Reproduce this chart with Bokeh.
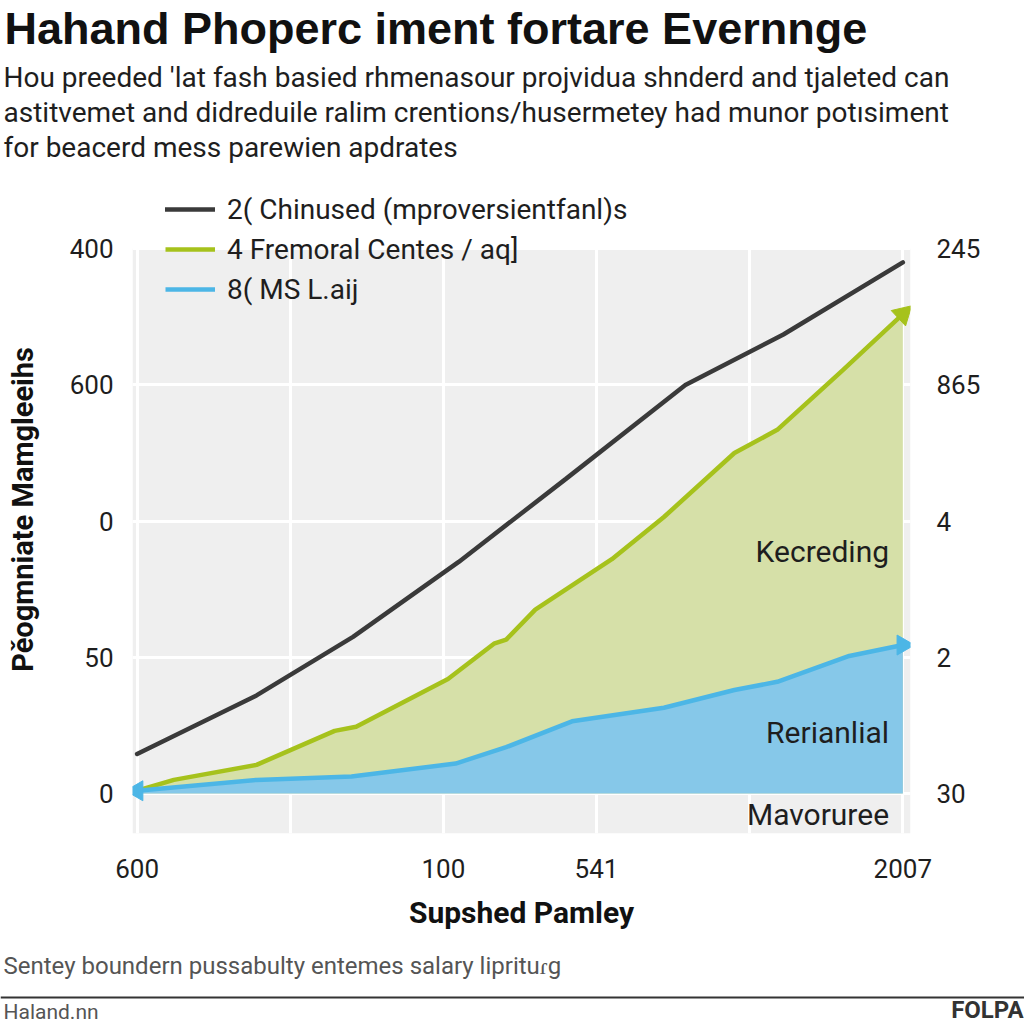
import math
from bokeh.plotting import figure
from bokeh.layouts import column
from bokeh.models import (Legend, LegendItem, Label, FixedTicker, LinearAxis,
                          Range1d, BoxAnnotation, Span)
from bokeh.core.properties import value
from bokeh.embed import file_html
from bokeh.resources import INLINE

# ---------------- data ----------------
title_text = "Hahand Phoperc iment fortare Evernnge"
subtitle_lines = [
    "Hou preeded 'lat fash basied rhmenasour projvidua shnderd and tjaleted can",
    "astitvemet and didreduile ralim crentions/husermetey had munor potısiment",
    "for beacerd mess parewien apdrates",
]
series_names = ["2( Chinused (mproversientfanl)s", "4 Fremoral Centes / aq]", "8( MS L.aij"]

x_tick_pos = [0, 1, 2, 3, 4, 5]
x_tick_labels = ["600", "", "100", "541", "", "2007"]
y_tick_pos = [0, 1, 2, 3, 4]
y_left_labels = ["0", "50", "0", "600", "400"]
y_right_labels = ["30", "2", "4", "865", "245"]

x_title = "Supshed Pamley"
y_title = "Pěogmniate Mamgleeihs"
area_labels = ["Kecreding", "Rerianlial", "Mavoruree"]
area_label_x = [4.91, 4.91, 4.91]
area_label_y = [1.78, 0.45, -0.154]

footer_note = "Sentey boundern pussabulty entemes salary liprituɾg"
footer_left = "Haland.nn"
footer_right = "FOLPA"

black_x = [0.0, 0.78, 1.41, 2.10, 2.80, 3.58, 4.22, 5.0]
black_y = [0.29, 0.72, 1.15, 1.70, 2.31, 3.00, 3.37, 3.90]

green_x = [0.0, 0.24, 0.78, 1.29, 1.43, 2.03, 2.33, 2.41, 2.60, 3.10, 3.44, 3.90, 4.18, 4.61, 5.0]
green_y = [0.02, 0.10, 0.21, 0.46, 0.49, 0.84, 1.10, 1.13, 1.35, 1.72, 2.03, 2.50, 2.67, 3.11, 3.52]

blue_x = [0.0, 0.78, 1.40, 2.08, 2.41, 2.84, 3.44, 3.90, 4.18, 4.65, 5.0]
blue_y = [0.02, 0.10, 0.125, 0.22, 0.34, 0.53, 0.63, 0.76, 0.82, 1.01, 1.09]

# ---------------- styles ----------------
BLACK = "#3a3a3a"
GREEN = "#a6c21c"
GREEN_FILL = "#d6e0a8"
BLUE = "#4cb6e6"
BLUE_FILL = "#86c8e9"
BG = "#efefef"
TXT = "#1e1e1e"
FONT = "Roboto"

W = 1024
H_HEAD = 170          # header strip
H_MAIN = 775          # main chart
H_FOOT = W - H_HEAD - H_MAIN

# frame edges in page px
FL, FR, FT, FB = 132, 910, 185, 833


def blank(h):
    f = figure(width=W, height=h, output_backend="svg", toolbar_location=None,
               x_range=Range1d(0, W), y_range=Range1d(0, h),
               x_axis_type=None, y_axis_type=None, frame_align=False,
               min_border=0, min_border_left=0, min_border_right=0,
               min_border_top=0, min_border_bottom=0)
    f.grid.visible = False
    f.outline_line_color = None
    f.background_fill_color = "white"
    f.border_fill_color = "white"
    return f


# ---------------- header ----------------
ph = blank(H_HEAD)
ph.add_layout(Label(x=4, y=H_HEAD - 28, text=title_text, text_font="Liberation Sans",
                    text_font_style="bold", text_font_size="45px", text_color="#111111",
                    text_baseline="middle"))
for i, line in enumerate(subtitle_lines):
    ph.add_layout(Label(x=3, y=H_HEAD - (77 + 35 * i), text=line, text_font=FONT,
                        text_font_size="28px", text_color=TXT, text_baseline="middle"))

# ---------------- main chart ----------------
y0_px, ppu_y = 793, 136.2
y_end = (y0_px - FT) / ppu_y
y_start = (y0_px - FB) / ppu_y

p = figure(width=W, height=H_MAIN, output_backend="svg", toolbar_location=None,
           x_range=Range1d(-0.03, 5.05), y_range=Range1d(y_start, y_end),
           frame_align=False,
           min_border_left=FL, min_border_right=W - FR,
           min_border_top=FT - H_HEAD, min_border_bottom=H_HEAD + H_MAIN - FB)
p.background_fill_color = "white"
p.border_fill_color = "white"
p.outline_line_color = None

# grey plotting panel (up to the top tick)
p.add_layout(BoxAnnotation(top=4.0, fill_color=BG, fill_alpha=1, line_color=None,
                           level="image"))

p.xgrid.ticker = FixedTicker(ticks=x_tick_pos)
p.ygrid.ticker = FixedTicker(ticks=y_tick_pos)
for g in (p.xgrid, p.ygrid):
    g.grid_line_color = "white"
    g.grid_line_width = 3

xa = p.xaxis[0]
xa.ticker = FixedTicker(ticks=x_tick_pos)
xa.major_label_overrides = {k: v for k, v in zip(x_tick_pos, x_tick_labels)}
xa.axis_label = x_title

ya = p.yaxis[0]
ya.ticker = FixedTicker(ticks=y_tick_pos)
ya.major_label_overrides = {k: v for k, v in zip(y_tick_pos, y_left_labels)}
ya.axis_label = y_title

yr = LinearAxis(ticker=FixedTicker(ticks=y_tick_pos))
yr.major_label_overrides = {k: v for k, v in zip(y_tick_pos, y_right_labels)}
p.add_layout(yr, "right")

for ax in (xa, ya, yr):
    ax.axis_line_color = None
    ax.major_tick_line_color = None
    ax.minor_tick_line_color = None
    ax.major_label_text_font = FONT
    ax.major_label_text_font_size = "26px"
    ax.major_label_text_color = TXT
    ax.axis_label_text_font = FONT
    ax.axis_label_text_font_style = "bold"
    ax.axis_label_text_color = "#111111"
xa.axis_label_text_font_size = "30px"
ya.axis_label_text_font_size = "29px"
xa.major_label_standoff = 19
xa.axis_label_standoff = 14
ya.major_label_standoff = 13
ya.axis_label_standoff = 27
yr.major_label_standoff = 20

p.varea(x=green_x, y1=0, y2=green_y, fill_color=GREEN_FILL)
p.varea(x=blue_x, y1=0, y2=blue_y, fill_color=BLUE_FILL)

r_black = p.line(black_x, black_y, line_color=BLACK, line_width=4.5, line_cap="round")
r_green = p.line(green_x, green_y, line_color=GREEN, line_width=4.5, line_join="round")
r_blue = p.line(blue_x, blue_y, line_color=BLUE, line_width=4.5, line_join="round")

g_ang = math.atan2((green_y[-1] - green_y[-2]) * ppu_y, (green_x[-1] - green_x[-2]) * 153.0)
p.scatter([green_x[-1]], [green_y[-1]], marker="triangle", size=21,
          angle=g_ang - math.pi / 2, fill_color=GREEN, line_color=GREEN)
p.scatter([blue_x[-1], blue_x[0]], [blue_y[-1], blue_y[0]], marker="triangle", size=20,
          angle=[-math.pi / 2, math.pi / 2], fill_color=BLUE, line_color=BLUE)

p.text(x=area_label_x, y=area_label_y, text=area_labels, text_align="right",
       text_baseline="middle", text_font_size="30px", text_color=TXT,
       text_font=value(FONT))

legend = Legend(items=[LegendItem(label=series_names[0], renderers=[r_black]),
                       LegendItem(label=series_names[1], renderers=[r_green]),
                       LegendItem(label=series_names[2], renderers=[r_blue])],
                location=(33, 527), background_fill_alpha=0, border_line_color=None,
                glyph_width=50, glyph_height=34, label_height=34, spacing=6,
                padding=0, margin=0, label_standoff=12,
                label_text_font=FONT, label_text_font_size="28px", label_text_color=TXT)
p.add_layout(legend, "center")

# ---------------- footer ----------------
pf = blank(H_FOOT)
top_f = H_HEAD + H_MAIN
pf.add_layout(Label(x=3, y=H_FOOT - (965 - top_f), text=footer_note, text_font=FONT,
                    text_font_size="24px", text_color="#555555", text_baseline="middle"))
pf.add_layout(Span(location=H_FOOT - (997 - top_f), dimension="width",
                   line_color="#333333", line_width=2))
pf.add_layout(Label(x=3, y=1, text=footer_left, text_font=FONT,
                    text_font_size="21px", text_color="#555555", text_baseline="bottom"))
pf.add_layout(Label(x=W - 1, y=1, text=footer_right,
                    text_font=FONT, text_font_style="bold", text_font_size="24px",
                    text_color="#333333", text_baseline="bottom", text_align="right"))

layout = column(ph, p, pf, spacing=0)
open("out.html", "w").write(file_html(layout, INLINE))
